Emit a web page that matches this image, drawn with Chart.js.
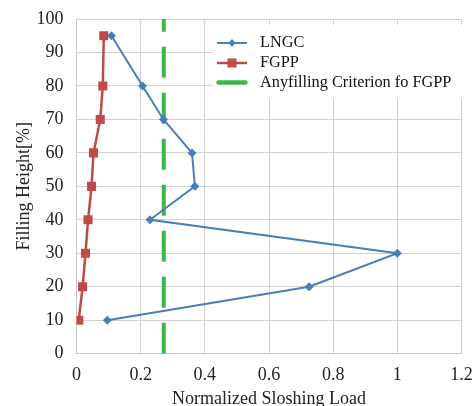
<!DOCTYPE html>
<html>
<head>
<meta charset="utf-8">
<script src="https://cdn.jsdelivr.net/npm/chart.js@4.4.1/dist/chart.umd.min.js"></script>
<style>
  html, body { margin: 0; padding: 0; background: #fff; }
  #wrap { width: 473px; height: 406px; }
</style>
</head>
<body>
<div id="wrap"><canvas id="c" width="473" height="406"></canvas></div>
<script>
// ---- data ----
const heights = [95, 80, 70, 60, 50, 40, 30, 20, 10];
const lngcLoad = [0.109, 0.206, 0.271, 0.36, 0.369, 0.229, 1.0, 0.725, 0.096];
const fgppLoad = [0.085, 0.082, 0.074, 0.053, 0.047, 0.036, 0.028, 0.019, 0.007];
const criterionLoad = 0.272;
const criterionHeights = [0, 100];
const seriesNames = ['LNGC', 'FGPP', 'Anyfilling Criterion fo FGPP'];
const xTickLabels = ['0', '0.2', '0.4', '0.6', '0.8', '1', '1.2'];
const yTickLabels = ['0', '10', '20', '30', '40', '50', '60', '70', '80', '90', '100'];
const xTitle = 'Normalized Sloshing Load';
const yTitle = 'Filling Height[%]';

const BLUE = '#4a7ebb';
const RED = '#be4b48';
const GREEN = '#3cb54a';
const SERIF = '"Liberation Serif", "Times New Roman", serif';

const toPts = (xs, ys) => xs.map((x, i) => ({ x: x, y: ys[i] }));

const insideLegend = {
  id: 'insideLegend',
  beforeDatasetsDraw(chart) {
    const { ctx, chartArea } = chart;
    ctx.save();
    ctx.fillStyle = '#ffffff';
    ctx.fillRect(213, 25, chartArea.right + 1 - 213, 73);
    const rows = [43, 63, 82.5];
    const x0 = 217, x1 = 247, xm = 232, tx = 260;
    // LNGC
    ctx.strokeStyle = BLUE; ctx.lineWidth = 2; ctx.lineCap = 'butt';
    ctx.beginPath(); ctx.moveTo(x0, rows[0]); ctx.lineTo(x1, rows[0]); ctx.stroke();
    ctx.fillStyle = BLUE;
    ctx.beginPath();
    ctx.moveTo(xm, rows[0] - 4); ctx.lineTo(xm + 3.5, rows[0]); ctx.lineTo(xm, rows[0] + 4); ctx.lineTo(xm - 3.5, rows[0]);
    ctx.closePath(); ctx.fill();
    // FGPP
    ctx.strokeStyle = RED; ctx.lineWidth = 2.5;
    ctx.beginPath(); ctx.moveTo(x0, rows[1]); ctx.lineTo(x1, rows[1]); ctx.stroke();
    ctx.fillStyle = RED;
    ctx.fillRect(xm - 4.5, rows[1] - 4.5, 9, 9);
    // Criterion
    ctx.strokeStyle = GREEN; ctx.lineWidth = 4.5; ctx.lineCap = 'round';
    ctx.beginPath(); ctx.moveTo(x0 + 1.5, rows[2]); ctx.lineTo(x1 - 1.5, rows[2]); ctx.stroke();
    // text
    ctx.fillStyle = '#111';
    ctx.font = '16.3px ' + SERIF;
    ctx.textBaseline = 'middle';
    ctx.textAlign = 'left';
    seriesNames.forEach((n, i) => ctx.fillText(n, tx, rows[i]));
    ctx.restore();
  }
};

function noOverhang(s) {
  s.paddingLeft = 0; s.paddingRight = 0; s.paddingTop = 0; s.paddingBottom = 0;
}

new Chart(document.getElementById('c'), {
  type: 'line',
  data: {
    datasets: [
      {
        label: seriesNames[0],
        data: toPts(lngcLoad, heights),
        borderColor: BLUE, backgroundColor: BLUE,
        borderWidth: 2,
        pointStyle: 'rectRot', pointRadius: 4.5, pointBorderWidth: 0,
        tension: 0
      },
      {
        label: seriesNames[1],
        data: toPts(fgppLoad, heights),
        borderColor: RED, backgroundColor: RED,
        borderWidth: 2.5,
        pointStyle: 'rect', pointRadius: 6.4, pointBorderWidth: 0,
        tension: 0
      },
      {
        label: seriesNames[2],
        data: criterionHeights.map(h => ({ x: criterionLoad, y: h })),
        borderColor: GREEN, backgroundColor: GREEN,
        borderWidth: 4,
        borderDash: [31, 15],
        pointRadius: 0,
        tension: 0
      }
    ]
  },
  options: {
    responsive: false,
    animation: false,
    events: [],
    layout: { padding: { left: 0, right: 11.5, top: 19, bottom: 0 } },
    plugins: { legend: { display: false }, tooltip: { enabled: false } },
    scales: {
      x: {
        type: 'linear', min: 0, max: 1.2,
        ticks: {
          stepSize: 0.2,
          callback: (v, i) => xTickLabels[i],
          font: { family: SERIF, size: 18 }, color: '#222', padding: 11
        },
        grid: { color: '#d2d2d2', lineWidth: 1, drawTicks: false },
        border: { color: '#c8c8c8', width: 1 },
        title: {
          display: true, text: xTitle, color: '#222',
          font: { family: SERIF, size: 18, lineHeight: 1 },
          padding: { top: 0, bottom: -2.5 }
        },
        afterFit: (s) => { s.height = 52.3; noOverhang(s); }
      },
      y: {
        type: 'linear', min: 0, max: 100,
        ticks: {
          stepSize: 10,
          callback: (v, i) => yTickLabels[i],
          font: { family: SERIF, size: 18 }, color: '#222', padding: 13
        },
        grid: { color: '#d2d2d2', lineWidth: 1, drawTicks: false },
        border: { color: '#c8c8c8', width: 1 },
        title: {
          display: true, text: yTitle, color: '#222',
          font: { family: SERIF, size: 18, lineHeight: 1 },
          padding: { top: 15, bottom: 0 }
        },
        afterFit: (s) => { s.width = 76.5; noOverhang(s); }
      }
    }
  },
  plugins: [insideLegend]
});
</script>
</body>
</html>
